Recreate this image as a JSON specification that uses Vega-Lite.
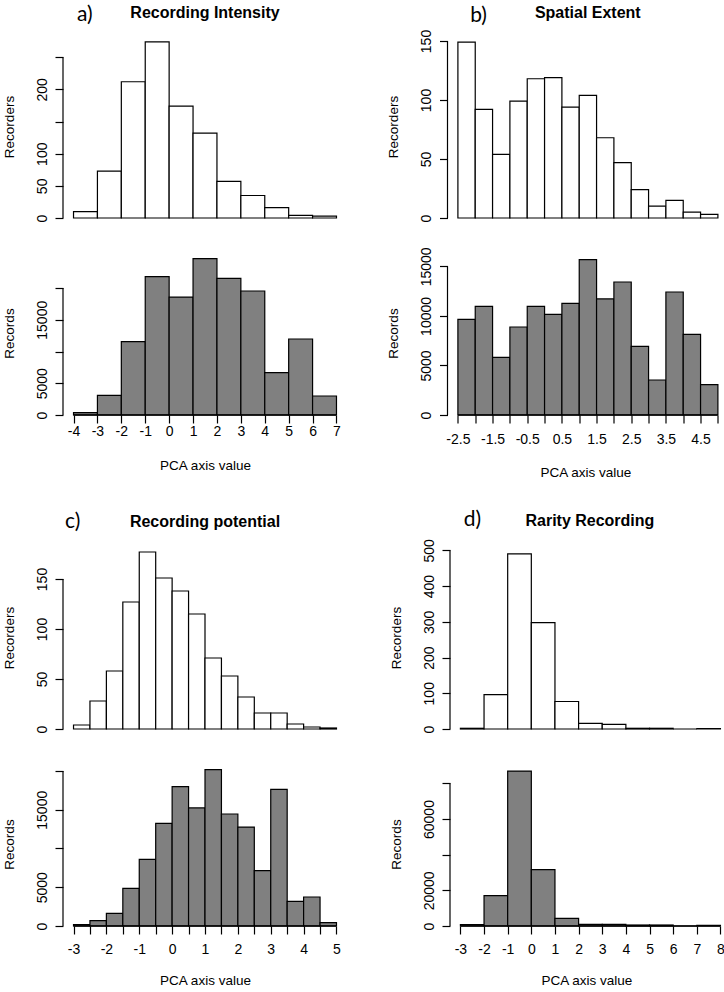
{
  "$schema": "https://vega.github.io/schema/vega-lite/v6.json",
  "background": "white",
  "padding": {"left": 2, "top": 4, "right": 0, "bottom": 0},
  "config": {
    "view": {"stroke": null},
    "font": "Liberation Sans",
    "axis": {"grid": false, "domain": false, "tickColor": "black", "tickWidth": 1.2, "tickSize": 8, "labelColor": "black", "labelFont": "Liberation Sans", "labelFontSize": 14, "titleColor": "black", "titleFont": "Liberation Sans", "titleFontSize": 13.5, "titleFontWeight": "normal", "labelOverlap": false, "labelFlush": false, "labelBound": false},
    "axisY": {"labelAngle": 270, "labelAlign": "center", "labelBaseline": "alphabetic", "labelPadding": 9, "titleX": -50, "titleBaseline": "alphabetic", "titleAngle": 270},
    "axisX": {"labelAngle": 0, "labelPadding": 1, "titlePadding": 20},
    "title": {"font": "Liberation Sans", "fontSize": 16, "fontWeight": "bold", "color": "black"}
  },
  "datasets": {
    "a_rec": [
      {"start": -4, "end": -3, "count": 10}, {"start": -3, "end": -2, "count": 73}, {"start": -2, "end": -1, "count": 212},
      {"start": -1, "end": 0, "count": 274}, {"start": 0, "end": 1, "count": 174}, {"start": 1, "end": 2, "count": 132},
      {"start": 2, "end": 3, "count": 57}, {"start": 3, "end": 4, "count": 35}, {"start": 4, "end": 5, "count": 16},
      {"start": 5, "end": 6, "count": 4}, {"start": 6, "end": 7, "count": 3}
    ],
    "a_recs": [
      {"start": -4, "end": -3, "count": 370}, {"start": -3, "end": -2, "count": 3100}, {"start": -2, "end": -1, "count": 11550},
      {"start": -1, "end": 0, "count": 21790}, {"start": 0, "end": 1, "count": 18580}, {"start": 1, "end": 2, "count": 24620},
      {"start": 2, "end": 3, "count": 21520}, {"start": 3, "end": 4, "count": 19530}, {"start": 4, "end": 5, "count": 6670},
      {"start": 5, "end": 6, "count": 11970}, {"start": 6, "end": 7, "count": 2990}
    ],
    "b_rec": [
      {"start": -2.5, "end": -2, "count": 149}, {"start": -2, "end": -1.5, "count": 92}, {"start": -1.5, "end": -1, "count": 54},
      {"start": -1, "end": -0.5, "count": 99}, {"start": -0.5, "end": 0, "count": 118}, {"start": 0, "end": 0.5, "count": 119},
      {"start": 0.5, "end": 1, "count": 94}, {"start": 1, "end": 1.5, "count": 104}, {"start": 1.5, "end": 2, "count": 68},
      {"start": 2, "end": 2.5, "count": 47}, {"start": 2.5, "end": 3, "count": 24}, {"start": 3, "end": 3.5, "count": 10},
      {"start": 3.5, "end": 4, "count": 15}, {"start": 4, "end": 4.5, "count": 5}, {"start": 4.5, "end": 5, "count": 3}
    ],
    "b_recs": [
      {"start": -2.5, "end": -2, "count": 9650}, {"start": -2, "end": -1.5, "count": 10970}, {"start": -1.5, "end": -1, "count": 5820},
      {"start": -1, "end": -0.5, "count": 8880}, {"start": -0.5, "end": 0, "count": 10970}, {"start": 0, "end": 0.5, "count": 10160},
      {"start": 0.5, "end": 1, "count": 11270}, {"start": 1, "end": 1.5, "count": 15670}, {"start": 1.5, "end": 2, "count": 11710},
      {"start": 2, "end": 2.5, "count": 13420}, {"start": 2.5, "end": 3, "count": 6930}, {"start": 3, "end": 3.5, "count": 3530},
      {"start": 3.5, "end": 4, "count": 12410}, {"start": 4, "end": 4.5, "count": 8140}, {"start": 4.5, "end": 5, "count": 3060}
    ],
    "c_rec": [
      {"start": -3, "end": -2.5, "count": 4}, {"start": -2.5, "end": -2, "count": 28}, {"start": -2, "end": -1.5, "count": 58},
      {"start": -1.5, "end": -1, "count": 127}, {"start": -1, "end": -0.5, "count": 177}, {"start": -0.5, "end": 0, "count": 151},
      {"start": 0, "end": 0.5, "count": 138}, {"start": 0.5, "end": 1, "count": 115}, {"start": 1, "end": 1.5, "count": 71},
      {"start": 1.5, "end": 2, "count": 53}, {"start": 2, "end": 2.5, "count": 32}, {"start": 2.5, "end": 3, "count": 16},
      {"start": 3, "end": 3.5, "count": 16}, {"start": 3.5, "end": 4, "count": 5}, {"start": 4, "end": 4.5, "count": 2},
      {"start": 4.5, "end": 5, "count": 1}
    ],
    "c_recs": [
      {"start": -3, "end": -2.5, "count": 170}, {"start": -2.5, "end": -2, "count": 690}, {"start": -2, "end": -1.5, "count": 1630},
      {"start": -1.5, "end": -1, "count": 4860}, {"start": -1, "end": -0.5, "count": 8600}, {"start": -0.5, "end": 0, "count": 13250},
      {"start": 0, "end": 0.5, "count": 17980}, {"start": 0.5, "end": 1, "count": 15230}, {"start": 1, "end": 1.5, "count": 20170},
      {"start": 1.5, "end": 2, "count": 14450}, {"start": 2, "end": 2.5, "count": 12770}, {"start": 2.5, "end": 3, "count": 7140},
      {"start": 3, "end": 3.5, "count": 17630}, {"start": 3.5, "end": 4, "count": 3180}, {"start": 4, "end": 4.5, "count": 3740},
      {"start": 4.5, "end": 5, "count": 430}
    ],
    "d_rec": [
      {"start": -3, "end": -2, "count": 2}, {"start": -2, "end": -1, "count": 96}, {"start": -1, "end": 0, "count": 490},
      {"start": 0, "end": 1, "count": 298}, {"start": 1, "end": 2, "count": 77}, {"start": 2, "end": 3, "count": 16},
      {"start": 3, "end": 4, "count": 13}, {"start": 4, "end": 5, "count": 2}, {"start": 5, "end": 6, "count": 2},
      {"start": 6, "end": 7, "count": 0}, {"start": 7, "end": 8, "count": 1}
    ],
    "d_recs": [
      {"start": -3, "end": -2, "count": 750}, {"start": -2, "end": -1, "count": 17000}, {"start": -1, "end": 0, "count": 86900},
      {"start": 0, "end": 1, "count": 31600}, {"start": 1, "end": 2, "count": 4300}, {"start": 2, "end": 3, "count": 940},
      {"start": 3, "end": 4, "count": 940}, {"start": 4, "end": 5, "count": 560}, {"start": 5, "end": 6, "count": 560},
      {"start": 6, "end": 7, "count": 0}, {"start": 7, "end": 8, "count": 370}
    ],
    "one": [{}]
  },
  "spacing": 28,
  "vconcat": [
    {
      "spacing": 39.5,
      "hconcat": [
        {
          "title": {"text": "a)", "font": "Lato", "fontSize": 21, "fontWeight": "normal", "anchor": "start", "offset": -37, "baseline": "alphabetic", "dx": 75},
          "bounds": "flush",
          "spacing": 33,
          "vconcat": [
            {
              "width": 284, "height": 183,
              "title": {"text": "Recording Intensity", "anchor": "middle", "frame": "group", "offset": 1, "baseline": "alphabetic"},
              "layer": [
                {
                  "data": {"name": "a_rec"},
                  "mark": {"type": "rect", "fill": "white", "stroke": "black", "strokeWidth": 1.2},
                  "encoding": {
                    "x": {"field": "start", "type": "quantitative", "scale": {"domain": [-4.44, 7.44], "nice": false, "zero": false}, "axis": null},
                    "x2": {"field": "end"},
                    "y": {"field": "count", "type": "quantitative", "scale": {"domain": [0, 284.7], "nice": false}, "axis": {"title": "Recorders", "tickCount": 100, "labelOverlap": false, "values": [0, 50, 100, 150, 200, 250], "labelExpr": "indexof([0, 50, 100, 200], datum.value) >= 0 ? '' + datum.value : ''"}},
                    "y2": {"datum": 0}
                  }
                },
                {
                  "data": {"name": "one"},
                  "mark": {"type": "rule", "stroke": "black", "strokeWidth": 1.2},
                  "encoding": {"x": {"datum": -4.44, "type": "quantitative"}, "y": {"datum": 0, "type": "quantitative"}, "y2": {"datum": 250}}
                }
              ]
            },
            {
              "width": 284, "height": 164,
              "layer": [
                {
                  "data": {"name": "a_recs"},
                  "mark": {"type": "rect", "fill": "#808080", "stroke": "black", "strokeWidth": 1.2},
                  "encoding": {
                    "x": {"field": "start", "type": "quantitative", "scale": {"domain": [-4.44, 7.44], "nice": false, "zero": false}, "axis": {"title": "PCA axis value", "tickCount": 100, "labelOverlap": false, "labelPadding": 1, "titlePadding": 20, "values": [-4, -3, -2, -1, 0, 1, 2, 3, 4, 5, 6, 7], "labelExpr": "'' + datum.value"}},
                    "x2": {"field": "end"},
                    "y": {"field": "count", "type": "quantitative", "scale": {"domain": [0, 25830], "nice": false}, "axis": {"title": "Records", "tickCount": 100, "labelOverlap": false, "values": [0, 5000, 10000, 15000, 20000], "labelExpr": "indexof([0, 5000, 15000], datum.value) >= 0 ? '' + datum.value : ''"}},
                    "y2": {"datum": 0}
                  }
                },
                {
                  "data": {"name": "one"},
                  "mark": {"type": "rule", "stroke": "black", "strokeWidth": 1.2},
                  "encoding": {"x": {"datum": -4.44, "type": "quantitative"}, "y": {"datum": 0, "type": "quantitative"}, "y2": {"datum": 20000}}
                },
                {
                  "data": {"name": "one"},
                  "mark": {"type": "rule", "stroke": "black", "strokeWidth": 1.6},
                  "encoding": {"x": {"datum": -4, "type": "quantitative"}, "x2": {"datum": 7}, "y": {"datum": 0, "type": "quantitative"}}
                }
              ]
            }
          ]
        },
        {
          "title": {"text": "b)", "font": "Lato", "fontSize": 21, "fontWeight": "normal", "anchor": "start", "offset": -38, "baseline": "alphabetic", "dx": 83.7},
          "bounds": "flush",
          "spacing": 33,
          "vconcat": [
            {
              "width": 275.6, "height": 183,
              "title": {"text": "Spatial Extent", "anchor": "middle", "frame": "group", "offset": -4.7, "baseline": "alphabetic", "dx": 2.5},
              "layer": [
                {
                  "data": {"name": "b_rec"},
                  "mark": {"type": "rect", "fill": "white", "stroke": "black", "strokeWidth": 1.2},
                  "encoding": {
                    "x": {"field": "start", "type": "quantitative", "scale": {"domain": [-2.8, 5.15], "nice": false, "zero": false}, "axis": null},
                    "x2": {"field": "end"},
                    "y": {"field": "count", "type": "quantitative", "scale": {"domain": [0, 155.1], "nice": false}, "axis": {"title": "Recorders", "tickCount": 100, "labelOverlap": false, "values": [0, 50, 100, 150], "labelExpr": "'' + datum.value"}},
                    "y2": {"datum": 0}
                  }
                },
                {
                  "data": {"name": "one"},
                  "mark": {"type": "rule", "stroke": "black", "strokeWidth": 1.2},
                  "encoding": {"x": {"datum": -2.8, "type": "quantitative"}, "y": {"datum": 0, "type": "quantitative"}, "y2": {"datum": 150}}
                }
              ]
            },
            {
              "width": 275.6, "height": 164,
              "layer": [
                {
                  "data": {"name": "b_recs"},
                  "mark": {"type": "rect", "fill": "#808080", "stroke": "black", "strokeWidth": 1.2},
                  "encoding": {
                    "x": {"field": "start", "type": "quantitative", "scale": {"domain": [-2.8, 5.15], "nice": false, "zero": false}, "axis": {"title": "PCA axis value", "tickCount": 100, "labelOverlap": false, "labelPadding": 9, "titlePadding": 19.6, "values": [-2.5, -2, -1.5, -1, -0.5, 0, 0.5, 1, 1.5, 2, 2.5, 3, 3.5, 4, 4.5, 5], "labelExpr": "(datum.value + 2.5) % 1 == 0 ? '' + datum.value : ''"}},
                    "x2": {"field": "end"},
                    "y": {"field": "count", "type": "quantitative", "scale": {"domain": [0, 16550], "nice": false}, "axis": {"title": "Records", "tickCount": 100, "labelOverlap": false, "values": [0, 5000, 10000, 15000], "labelExpr": "'' + datum.value"}},
                    "y2": {"datum": 0}
                  }
                },
                {
                  "data": {"name": "one"},
                  "mark": {"type": "rule", "stroke": "black", "strokeWidth": 1.2},
                  "encoding": {"x": {"datum": -2.8, "type": "quantitative"}, "y": {"datum": 0, "type": "quantitative"}, "y2": {"datum": 15000}}
                },
                {
                  "data": {"name": "one"},
                  "mark": {"type": "rule", "stroke": "black", "strokeWidth": 1.6},
                  "encoding": {"x": {"datum": -2.5, "type": "quantitative"}, "x2": {"datum": 5}, "y": {"datum": 0, "type": "quantitative"}}
                }
              ]
            }
          ]
        }
      ]
    },
    {
      "spacing": 42,
      "hconcat": [
        {
          "title": {"text": "c)", "font": "Lato", "fontSize": 21, "fontWeight": "normal", "anchor": "start", "offset": -35, "baseline": "alphabetic", "dx": 63},
          "bounds": "flush",
          "spacing": 33,
          "vconcat": [
            {
              "width": 284, "height": 183,
              "title": {"text": "Recording potential", "anchor": "middle", "frame": "group", "offset": 3, "baseline": "alphabetic"},
              "layer": [
                {
                  "data": {"name": "c_rec"},
                  "mark": {"type": "rect", "fill": "white", "stroke": "black", "strokeWidth": 1.2},
                  "encoding": {
                    "x": {"field": "start", "type": "quantitative", "scale": {"domain": [-3.32, 5.32], "nice": false, "zero": false}, "axis": null},
                    "x2": {"field": "end"},
                    "y": {"field": "count", "type": "quantitative", "scale": {"domain": [0, 183], "nice": false}, "axis": {"title": "Recorders", "tickCount": 100, "labelOverlap": false, "values": [0, 50, 100, 150], "labelExpr": "'' + datum.value"}},
                    "y2": {"datum": 0}
                  }
                },
                {
                  "data": {"name": "one"},
                  "mark": {"type": "rule", "stroke": "black", "strokeWidth": 1.2},
                  "encoding": {"x": {"datum": -3.32, "type": "quantitative"}, "y": {"datum": 0, "type": "quantitative"}, "y2": {"datum": 150}}
                }
              ]
            },
            {
              "width": 284, "height": 164,
              "layer": [
                {
                  "data": {"name": "c_recs"},
                  "mark": {"type": "rect", "fill": "#808080", "stroke": "black", "strokeWidth": 1.2},
                  "encoding": {
                    "x": {"field": "start", "type": "quantitative", "scale": {"domain": [-3.32, 5.32], "nice": false, "zero": false}, "axis": {"title": "PCA axis value", "tickCount": 100, "labelOverlap": false, "labelPadding": 8, "titlePadding": 17.5, "values": [-3, -2.5, -2, -1.5, -1, -0.5, 0, 0.5, 1, 1.5, 2, 2.5, 3, 3.5, 4, 4.5, 5], "labelExpr": "datum.value % 1 == 0 ? '' + datum.value : ''"}},
                    "x2": {"field": "end"},
                    "y": {"field": "count", "type": "quantitative", "scale": {"domain": [0, 21160], "nice": false}, "axis": {"title": "Records", "tickCount": 100, "labelOverlap": false, "values": [0, 5000, 10000, 15000, 20000], "labelExpr": "indexof([0, 5000, 15000], datum.value) >= 0 ? '' + datum.value : ''"}},
                    "y2": {"datum": 0}
                  }
                },
                {
                  "data": {"name": "one"},
                  "mark": {"type": "rule", "stroke": "black", "strokeWidth": 1.2},
                  "encoding": {"x": {"datum": -3.32, "type": "quantitative"}, "y": {"datum": 0, "type": "quantitative"}, "y2": {"datum": 20000}}
                },
                {
                  "data": {"name": "one"},
                  "mark": {"type": "rule", "stroke": "black", "strokeWidth": 1.6},
                  "encoding": {"x": {"datum": -3, "type": "quantitative"}, "x2": {"datum": 5}, "y": {"datum": 0, "type": "quantitative"}}
                }
              ]
            }
          ]
        },
        {
          "title": {"text": "d)", "font": "Lato", "fontSize": 21, "fontWeight": "normal", "anchor": "start", "offset": -34, "baseline": "alphabetic", "dx": 74.7},
          "bounds": "flush",
          "spacing": 33,
          "vconcat": [
            {
              "width": 272.8, "height": 183,
              "title": {"text": "Rarity Recording", "anchor": "middle", "frame": "group", "offset": -3, "baseline": "alphabetic", "dx": 3.5},
              "layer": [
                {
                  "data": {"name": "d_rec"},
                  "mark": {"type": "rect", "fill": "white", "stroke": "black", "strokeWidth": 1.2},
                  "encoding": {
                    "x": {"field": "start", "type": "quantitative", "scale": {"domain": [-3.44, 8.1], "nice": false, "zero": false}, "axis": null},
                    "x2": {"field": "end"},
                    "y": {"field": "count", "type": "quantitative", "scale": {"domain": [0, 512.2], "nice": false}, "axis": {"title": "Recorders", "tickCount": 100, "labelOverlap": false, "values": [0, 100, 200, 300, 400, 500], "labelExpr": "'' + datum.value"}},
                    "y2": {"datum": 0}
                  }
                },
                {
                  "data": {"name": "one"},
                  "mark": {"type": "rule", "stroke": "black", "strokeWidth": 1.2},
                  "encoding": {"x": {"datum": -3.44, "type": "quantitative"}, "y": {"datum": 0, "type": "quantitative"}, "y2": {"datum": 500}}
                }
              ]
            },
            {
              "width": 272.8, "height": 164,
              "layer": [
                {
                  "data": {"name": "d_recs"},
                  "mark": {"type": "rect", "fill": "#808080", "stroke": "black", "strokeWidth": 1.2},
                  "encoding": {
                    "x": {"field": "start", "type": "quantitative", "scale": {"domain": [-3.44, 8.1], "nice": false, "zero": false}, "axis": {"title": "PCA axis value", "tickCount": 100, "labelOverlap": false, "labelPadding": 8, "titlePadding": 17.5, "values": [-3, -2, -1, 0, 1, 2, 3, 4, 5, 6, 7, 8], "labelExpr": "'' + datum.value"}},
                    "x2": {"field": "end"},
                    "y": {"field": "count", "type": "quantitative", "scale": {"domain": [0, 91980], "nice": false}, "axis": {"title": "Records", "tickCount": 100, "labelOverlap": false, "values": [0, 20000, 40000, 60000, 80000], "labelExpr": "indexof([0, 20000, 60000], datum.value) >= 0 ? '' + datum.value : ''"}},
                    "y2": {"datum": 0}
                  }
                },
                {
                  "data": {"name": "one"},
                  "mark": {"type": "rule", "stroke": "black", "strokeWidth": 1.2},
                  "encoding": {"x": {"datum": -3.44, "type": "quantitative"}, "y": {"datum": 0, "type": "quantitative"}, "y2": {"datum": 80000}}
                },
                {
                  "data": {"name": "one"},
                  "mark": {"type": "rule", "stroke": "black", "strokeWidth": 1.6},
                  "encoding": {"x": {"datum": -3, "type": "quantitative"}, "x2": {"datum": 8}, "y": {"datum": 0, "type": "quantitative"}}
                }
              ]
            }
          ]
        }
      ]
    }
  ]
}
